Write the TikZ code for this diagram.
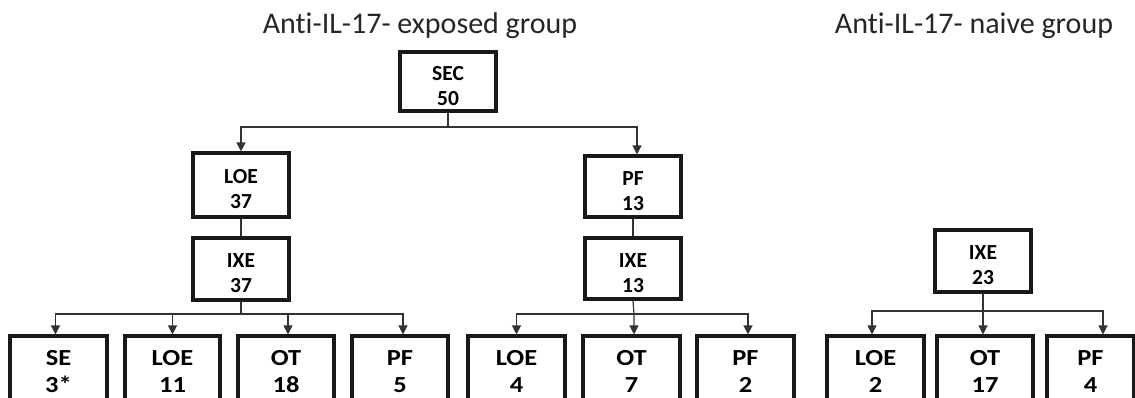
\documentclass[tikz,border=0pt]{standalone}
\usepackage{fontspec}
\setmainfont{Carlito}[Ligatures=NoCommon]
\newfontfamily\btmfont{Carlito}[FakeStretch=1.15,Ligatures=NoCommon]
\usetikzlibrary{arrows.meta}
\newcommand\topstrut{\rule{0pt}{23pt}}
\begin{document}
\begin{tikzpicture}[x=1pt,y=-1pt,
  box/.style={draw=black!90, line width=3.1pt, minimum width=96pt, inner sep=0pt, align=center,
    font=\fontsize{21.5}{25}\selectfont\bfseries},
  topbox/.style={box, minimum height=62pt},
  leafbox/.style={box, minimum height=71pt, font=\btmfont\fontsize{23}{27}\selectfont\bfseries},
  title/.style={anchor=base, font=\fontsize{30}{36}\selectfont, text=black!85},
  link/.style={draw=black!80, line width=1.2pt},
  arr/.style={link, -{Triangle[length=9pt,width=9pt]}}
]
\fill[white] (0,0) rectangle (1135,397);
\clip (0,0) rectangle (1135,397);

% titles
\node[title] (t1) at (420,33) {Anti-IL-17- exposed group};
\node[title] (t2) at (974,33) {Anti-IL-17- naive group};

% exposed group
\node[topbox, minimum height=59pt] (sec) at (448,81.5) {\topstrut SEC\\50};
\node[topbox, minimum height=64pt] (loe37) at (241,185) {\topstrut LOE\\37};
\node[topbox] (ixe37) at (241,269) {\topstrut IXE\\37};
\node[topbox, minimum height=61pt] (pf13) at (633,186.5) {\topstrut PF\\13};
\node[topbox, minimum height=61pt] (ixe13) at (633,268.5) {\topstrut IXE\\13};

\node[leafbox, minimum width=97pt] (se) at (58.5,371.5) {SE\\3*};
\node[leafbox, minimum width=95pt] (loe11) at (172.5,371.5) {LOE\\11};
\node[leafbox] (ot18) at (286,371.5) {OT\\18};
\node[leafbox] (pf5) at (400,371.5) {PF\\5};

\node[leafbox, minimum width=97pt] (loe4) at (516.5,371.5) {LOE\\4};
\node[leafbox, minimum width=97pt] (ot7) at (631.5,371.5) {OT\\7};
\node[leafbox, minimum width=97pt] (pf2) at (745.5,371.5) {PF\\2};

% naive group
\node[topbox] (ixe23) at (983,261) {\topstrut IXE\\23};
\node[leafbox, minimum width=97pt] (loe2) at (875.5,371.5) {LOE\\2};
\node[leafbox] (ot17) at (985,371.5) {OT\\17};
\node[leafbox, minimum width=87pt] (pf4) at (1090.5,371.5) {PF\\4};

% connectors
\coordinate (j1) at (448,127);
\draw[link] (sec.south) -- (j1);
\draw[arr] (j1) -| (loe37.north);
\draw[arr] (j1) -| ([xshift=4pt]pf13.north);
\draw[link] (loe37.south) -- (ixe37.north);
\draw[link] (pf13.south) -- (ixe13.north);

\coordinate (j2) at (241,314);
\draw[link] (ixe37.south) -- (j2);
\draw[arr] (j2) -| ([xshift=-3pt]se.north);
\draw[arr] (j2) -| (loe11.north);
\draw[arr] (j2) -| ([xshift=2pt]ot18.north);
\draw[arr] (j2) -| ([xshift=3pt]pf5.north);

\coordinate (j3) at (634,314);
\draw[arr] (ixe13.south) -- (j3) -- ([xshift=2.5pt]ot7.north);
\draw[arr] (j3) -| (loe4.north);
\draw[arr] (j3) -| ([xshift=2.5pt]pf2.north);

\coordinate (j4) at (983,311);
\draw[arr] (ixe23.south) -- (j4) -- ([xshift=-2pt]ot17.north);
\draw[arr] (j4) -| ([xshift=-3.5pt]loe2.north);
\draw[arr] (j4) -| ([xshift=12.5pt]pf4.north);
\end{tikzpicture}
\end{document}
